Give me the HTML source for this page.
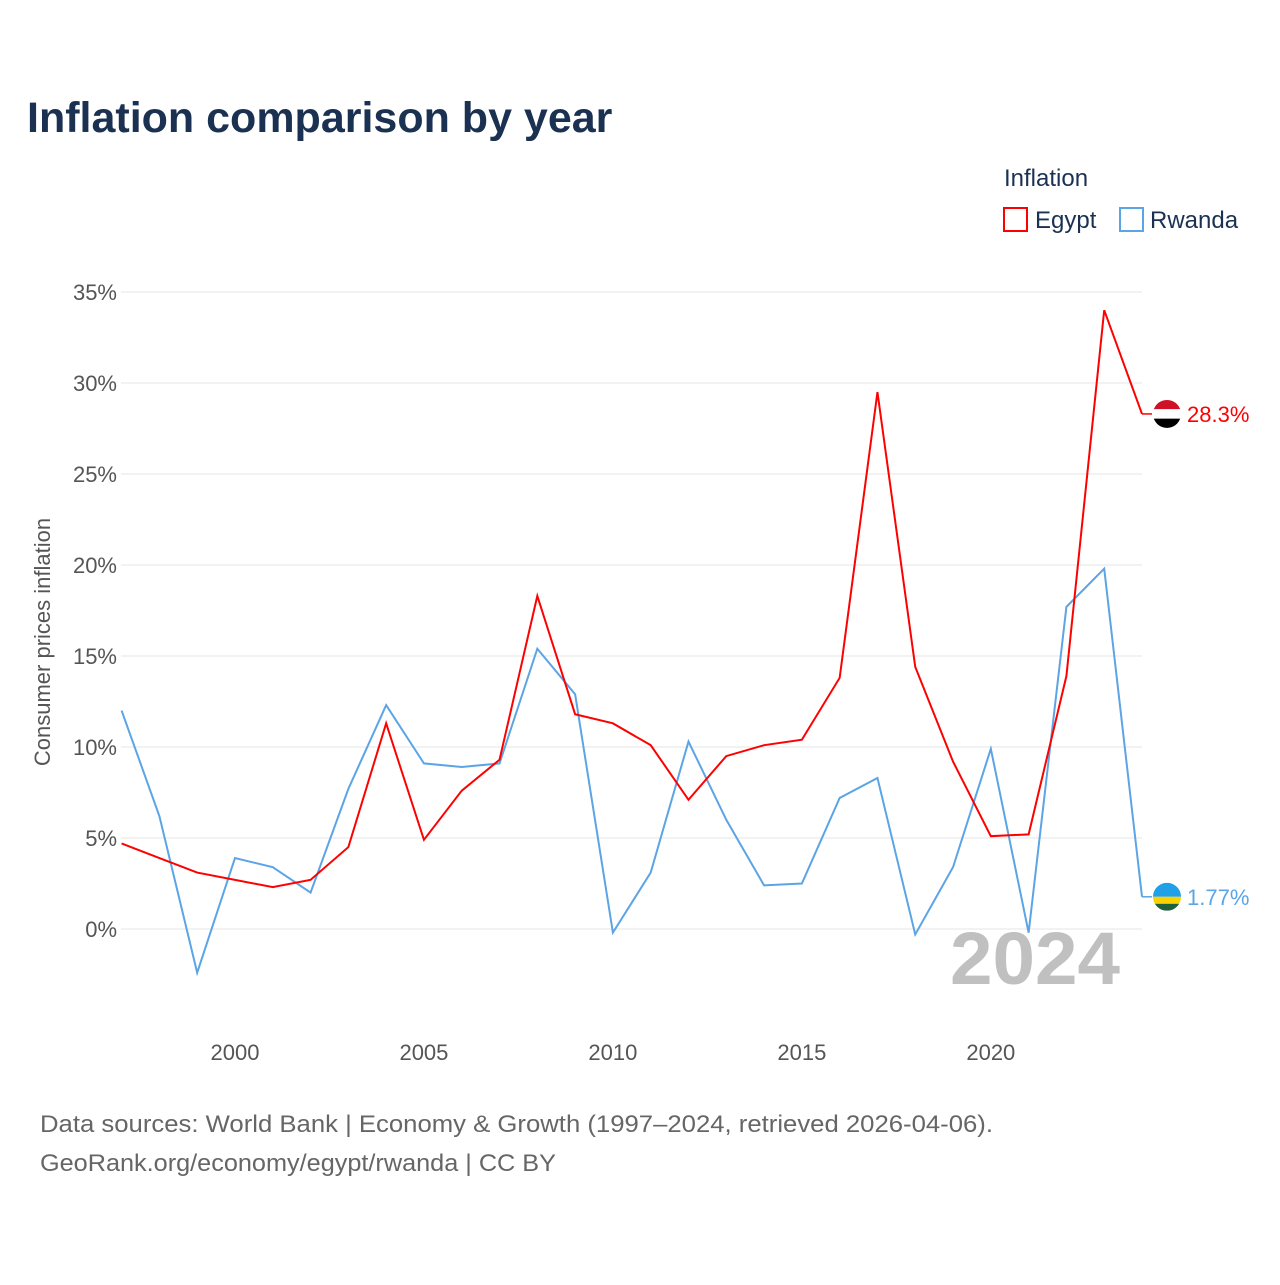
<!DOCTYPE html>
<html><head><meta charset="utf-8"><style>
body{margin:0;background:#fff;font-family:"Liberation Sans",sans-serif}
#wrap{position:relative;width:1280px;height:1280px}
</style></head><body>
<div id="wrap">
<svg id="chart" width="1280" height="1280"></svg>
</div>
<script>
const years=[1997,1998,1999,2000,2001,2002,2003,2004,2005,2006,2007,2008,2009,2010,2011,2012,2013,2014,2015,2016,2017,2018,2019,2020,2021,2022,2023,2024];
const egypt=[4.7,3.9,3.1,2.7,2.3,2.7,4.5,11.3,4.9,7.6,9.3,18.3,11.8,11.3,10.1,7.1,9.5,10.1,10.4,13.8,29.5,14.4,9.2,5.1,5.2,13.9,34.0,28.3];
const rwanda=[12.0,6.2,-2.4,3.9,3.4,2.0,7.7,12.3,9.1,8.9,9.1,15.4,12.9,-0.2,3.1,10.3,6.0,2.4,2.5,7.2,8.3,-0.3,3.4,9.9,-0.2,17.7,19.8,1.77];
const yTicks=[0,5,10,15,20,25,30,35];
const xTicks=[2000,2005,2010,2015,2020];
const NS="http://www.w3.org/2000/svg";
const svg=document.getElementById('chart');
const x=v=>121.6+(v-1997)*(1142-121.6)/27;
const y=v=>929-v*(929-292)/35;
function el(t,a,txt){const e=document.createElementNS(NS,t);for(const k in a)e.setAttribute(k,a[k]);if(txt!==undefined)e.textContent=txt;svg.appendChild(e);return e;}
let t=el('text',{x:27,y:132,'font-size':43,'font-weight':'bold',fill:'#1b3152'},'Inflation comparison by year');


t=el('text',{x:1004,y:186,'font-size':24,fill:'#1b3152'},'Inflation');


[[1004,'#ff0000','Egypt',1035],[1120,'#5ba4e6','Rwanda',1150]].forEach(([lx,c,n,tx])=>{
 const r=el('rect',{x:lx,y:208,width:23,height:23,fill:'none',stroke:c,'stroke-width':2});
 
 
 const tt=el('text',{x:tx,y:228,'font-size':24,fill:'#1b3152'},n);
 
 
});
yTicks.forEach(v=>{
 const l=el('line',{x1:121,x2:1142,y1:y(v),y2:y(v),stroke:'#e6e6e6','stroke-width':1});
 
 
 const tt=el('text',{x:117,y:y(v)+8,'font-size':22,fill:'#555','text-anchor':'end'},v+'%');
 
 
});
xTicks.forEach(v=>{
 const tt=el('text',{x:x(v),y:1060,'font-size':22,fill:'#555','text-anchor':'middle'},v);
 
 
});
t=el('text',{x:0,y:0,'font-size':22,fill:'#555','text-anchor':'middle',transform:'translate(50,642) rotate(-90)'},'Consumer prices inflation');


t=el('text',{x:950,y:984,'font-size':74,'font-weight':'bold',fill:'#c0c0c0',textLength:170,lengthAdjust:'spacingAndGlyphs'},'2024');


function series(vals,c,name){
 const p=el('polyline',{points:vals.map((v,i)=>x(years[i])+','+y(v)).join(' '),fill:'none',stroke:c,'stroke-width':2,'stroke-linejoin':'miter'});
 
 
}
series(rwanda,'#5ba4e6','rwanda');
series(egypt,'#ff0000','egypt');
function endLabel(v,c,name,txt,flag){
 const yy=y(v);
 const l=el('line',{x1:1142,x2:1152,y1:yy,y2:yy,stroke:c,'stroke-width':1.5});
 
 
 const g=document.createElementNS(NS,'g');svg.appendChild(g);
 
 
 const cp=el('clipPath',{id:'cp'+name});
 const cc=document.createElementNS(NS,'circle');cc.setAttribute('cx',1167);cc.setAttribute('cy',yy);cc.setAttribute('r',14);cp.appendChild(cc);
 flag.forEach(([c2,h],i)=>{const r=el('rect',{x:1153,y:yy-14+flag.slice(0,i).reduce((a,b)=>a+b[1],0),width:28,height:h,fill:c2,'clip-path':'url(#cp'+name+')'});g.appendChild(r);});
 const tt=el('text',{x:1187,y:yy+8,'font-size':22,fill:c},txt);
 
 
}
endLabel(egypt[egypt.length-1],'#ff0000','egypt','28.3%',[['#ce1126',9.3],['#ffffff',9.4],['#000000',9.3]]);
endLabel(rwanda[rwanda.length-1],'#5ba4e6','rwanda','1.77%',[['#20a0e6',14],['#fad201',7],['#20603d',7]]);
t=el('text',{x:40,y:1132,'font-size':24,fill:'#666',textLength:953,lengthAdjust:'spacingAndGlyphs'},'Data sources: World Bank | Economy & Growth (1997–2024, retrieved 2026-04-06).');


t=el('text',{x:40,y:1171,'font-size':24,fill:'#666',textLength:516,lengthAdjust:'spacingAndGlyphs'},'GeoRank.org/economy/egypt/rwanda | CC BY');


</script>
</body></html>
